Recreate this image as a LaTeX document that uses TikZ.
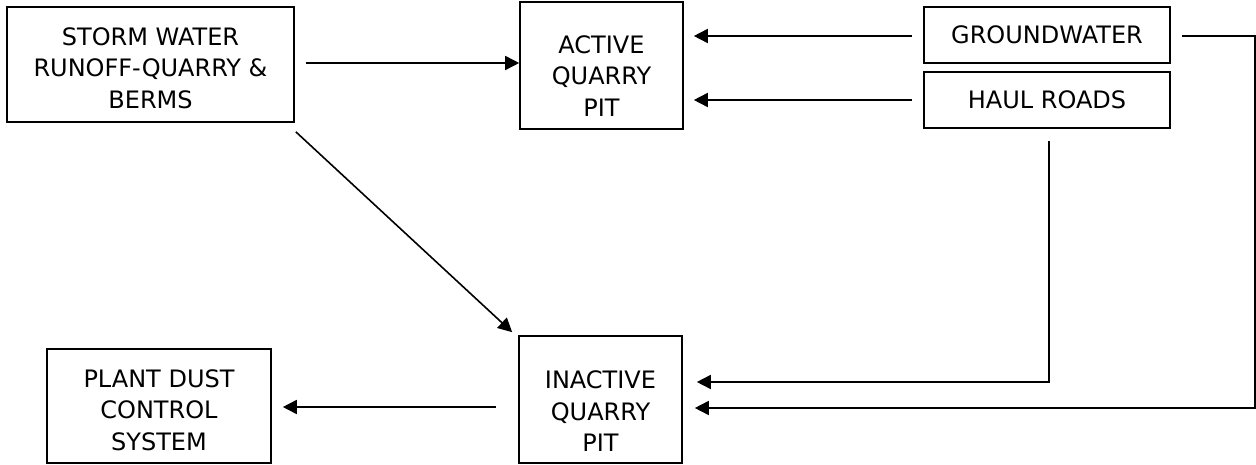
\documentclass[tikz,border=0pt]{standalone}
\usepackage{fontspec}
\setmainfont{DejaVu Sans}
\usetikzlibrary{arrows.meta}
\begin{document}
\begin{tikzpicture}[x=1pt,y=-1pt,
  box/.style={draw,line width=1.6pt,inner sep=0pt,align=center,
    font=\fontsize{24}{31.5}\selectfont},
  arr/.style={line width=1.6pt,-{Triangle[length=14pt,width=14pt]}}]
\useasboundingbox (0,0) rectangle (1256,465);
\node[box,minimum width=287pt,minimum height=115pt] (storm) at (150.5,64.5)
  {\rule{0pt}{24.5pt}STORM WATER\\RUNOFF-QUARRY \&\\BERMS};
\node[box,minimum width=163pt,minimum height=127pt] (active) at (601.5,65.5)
  {\rule{0pt}{39pt}ACTIVE\\QUARRY\\PIT};
\node[box,minimum width=246pt,minimum height=56pt] (ground) at (1047,35)
  {GROUNDWATER};
\node[box,minimum width=246pt,minimum height=56pt] (haul) at (1047,100)
  {HAUL ROADS};
\node[box,minimum width=224pt,minimum height=114pt] (plant) at (159,406)
  {\rule{0pt}{25.5pt}PLANT DUST\\CONTROL\\SYSTEM};
\node[box,minimum width=163pt,minimum height=127pt] (inactive) at (600.5,399.5)
  {\rule{0pt}{41pt}INACTIVE\\QUARRY\\PIT};
% free ends
\coordinate (s1) at ([xshift=11pt,yshift=1.5pt]storm.east);
\coordinate (a1) at ([yshift=2.5pt]active.west);
\coordinate (g1) at ([xshift=-11pt,yshift=-1pt]ground.west);
\coordinate (a2) at ([xshift=10pt,yshift=29.5pt]active.east);
\coordinate (h1) at ([xshift=-11pt]haul.west);
\coordinate (a3) at ([xshift=10pt,yshift=-34.5pt]active.east);
\coordinate (s2) at ([xshift=1pt,yshift=-9pt]storm.south east);
\coordinate (i1) at ([xshift=-6pt,yshift=3pt]inactive.north west);
\coordinate (h2) at ([xshift=2pt,yshift=-12pt]haul.south);
\coordinate (i2) at ([xshift=14pt,yshift=17.5pt]inactive.east);
\coordinate (g2) at ([xshift=11pt,yshift=-1pt]ground.east);
\coordinate (i3) at ([xshift=12pt,yshift=-8.5pt]inactive.east);
\coordinate (i4) at ([xshift=-22pt,yshift=-7.5pt]inactive.west);
\coordinate (p1) at ([xshift=11pt,yshift=-1pt]plant.east);
% connectors
\draw[arr] (s1) -- (a1);
\draw[arr] (g1) -- (a2);
\draw[arr] (h1) -- (a3);
\draw[arr] (s2) -- (i1);
\draw[arr] (h2) |- (i2);
\draw[arr] (g2) -- ++(73,0) |- (i3);
\draw[arr] (i4) -- (p1);
\end{tikzpicture}
\end{document}
